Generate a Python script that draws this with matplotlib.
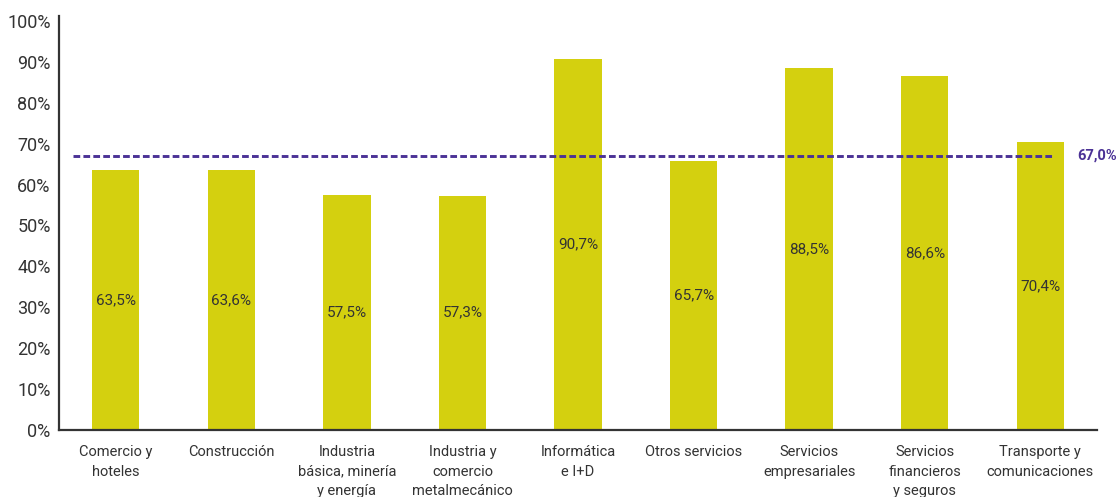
import matplotlib
matplotlib.use("Agg")
import matplotlib.pyplot as plt

categories = [
    "Comercio y\nhoteles",
    "Construcción",
    "Industria\nbásica, minería\ny energía",
    "Industria y\ncomercio\nmetalmecánico",
    "Informática\ne I+D",
    "Otros servicios",
    "Servicios\nempresariales",
    "Servicios\nfinancieros\ny seguros",
    "Transporte y\ncomunicaciones",
]
values = [63.5, 63.6, 57.5, 57.3, 90.7, 65.7, 88.5, 86.6, 70.4]
average = 67.0
y_ticks = [0, 10, 20, 30, 40, 50, 60, 70, 80, 90, 100]

plt.rcParams["font.family"] = ["Roboto", "DejaVu Sans"]

bar_color = "#d4d00f"
line_color = "#4b3296"
text_color = "#333333"

fig = plt.figure(figsize=(11.18, 4.97), dpi=100)
ax = fig.add_axes([59 / 1118, 67 / 497, (1097 - 59) / 1118, (430 - 16) / 497])

x = list(range(len(categories)))
ax.bar(x, values, width=0.41, color=bar_color, zorder=2)

for xi, v in zip(x, values):
    ax.text(xi, v / 2, f"{v:.1f}%".replace(".", ","), ha="center", va="center",
            fontsize=11, color=text_color, zorder=3)

ax.plot([-0.37, 8.11], [average, average], color=line_color, lw=2.1,
        dashes=(2.3, 1.1), zorder=4)
# average label sits just right of the dashed line, flush with the figure edge
ax.annotate(f"{average:.1f}%".replace(".", ","), xy=(1.0, average),
            xycoords=("figure fraction", "data"), xytext=(-1, 0),
            textcoords="offset pixels", ha="right", va="center",
            fontsize=10.5, fontweight="bold", color=line_color,
            annotation_clip=False)

ax.set_xlim(-0.49, 8.49)
ax.set_ylim(0, 101.2)
ax.set_yticks(y_ticks)
ax.set_yticklabels([f"{t}%" for t in y_ticks], fontsize=13, color=text_color)
ax.set_xticks(x)
ax.set_xticklabels(categories, fontsize=10.5, color=text_color, linespacing=1.5)
ax.tick_params(axis="both", length=0)
ax.tick_params(axis="y", pad=6)
ax.tick_params(axis="x", pad=11)

for side in ("top", "right"):
    ax.spines[side].set_visible(False)
for side in ("left", "bottom"):
    ax.spines[side].set_color("#333333")
    ax.spines[side].set_linewidth(1.6)

fig.savefig("out.png", dpi=100)
